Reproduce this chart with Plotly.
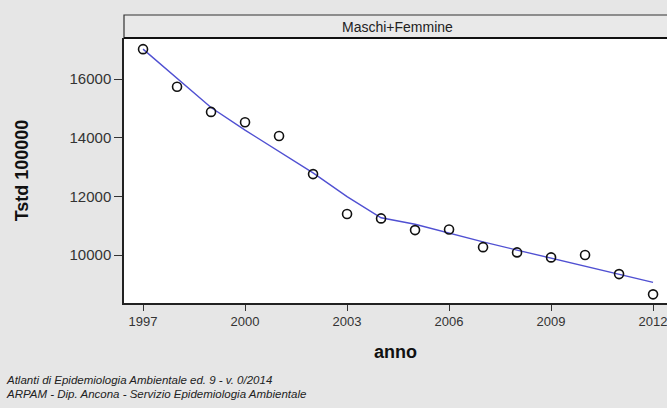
import plotly.graph_objects as go

# Standardised rate per 100000, both sexes
anni = [1997, 1998, 1999, 2000, 2001, 2002, 2003, 2004,
        2005, 2006, 2007, 2008, 2009, 2010, 2011, 2012]
tassi = [17020, 15740, 14880, 14530, 14060, 12760, 11400, 11250,
         10850, 10870, 10270, 10090, 9920, 10000, 9350, 8660]
# Smoothed trend
trend = [17020, 16020, 15030, 14260, 13520, 12800, 11990, 11270,
         11050, 10740, 10450, 10170, 9890, 9620, 9350, 9070]

x_ticks = [1997, 2000, 2003, 2006, 2009, 2012]
y_ticks = [10000, 12000, 14000, 16000]

fig = go.Figure()
fig.add_trace(go.Scatter(
    x=anni, y=trend, mode="lines",
    line=dict(color="#5050d2", width=1.4),
    hoverinfo="skip", showlegend=False,
))
fig.add_trace(go.Scatter(
    x=anni, y=tassi, mode="markers",
    marker=dict(symbol="circle-open", size=9, color="#111111",
                line=dict(width=1.6, color="#111111")),
    showlegend=False,
))

H_PLOT = 408 - 38 - 105
W_PLOT = 667 - 124
strip_top = 1 + 23 / H_PLOT

fig.update_layout(
    width=667, height=408,
    margin=dict(l=124, r=0, t=38, b=105),
    paper_bgcolor="#e6e6e6",
    plot_bgcolor="#ffffff",
    font=dict(family="Liberation Sans, Arial, sans-serif", color="#222222"),
    xaxis=dict(
        range=[1996.44, 2012.41], tickvals=x_ticks,
        ticktext=[str(v) for v in x_ticks],
        ticklabeloverflow="allow",
        showgrid=False, zeroline=False,
        showline=True, linecolor="#222222", linewidth=1.5,
        ticks="outside", ticklen=6, tickcolor="#333333", tickwidth=1,
        tickfont=dict(size=13, color="#333333"),
        title=dict(text="<b>anno</b>", font=dict(size=18, color="#111111"),
                   standoff=17),
    ),
    yaxis=dict(
        range=[8365, 17400], tickvals=y_ticks,
        ticktext=[str(v) for v in y_ticks],
        showgrid=False, zeroline=False,
        showline=True, linecolor="#222222", linewidth=1.5,
        ticks="outside", ticklen=8, tickcolor="#333333", tickwidth=1,
        tickfont=dict(size=15, color="#333333"),
        title=dict(text="<b>Tstd 100000</b>", font=dict(size=18, color="#111111"),
                   standoff=36),
    ),
    shapes=[
        dict(type="rect", xref="paper", yref="paper",
             x0=0, x1=1.05, y0=1, y1=strip_top,
             fillcolor="#e9e9e9", line=dict(color="#333333", width=1.2),
             layer="below"),
        dict(type="line", xref="paper", yref="paper",
             x0=0, x1=1.05, y0=1, y1=1,
             line=dict(color="#111111", width=2.2)),
    ],
    annotations=[
        dict(text="Maschi+Femmine", xref="paper", yref="paper",
             x=0.503, y=(1 + strip_top) / 2, showarrow=False,
             xanchor="center", yanchor="middle",
             font=dict(size=14, color="#222222")),
        dict(text="<i>Atlanti di Epidemiologia Ambientale ed. 9 - v. 0/2014</i>",
             xref="paper", yref="paper", x=-120 / W_PLOT, y=-77 / H_PLOT,
             xanchor="left", yanchor="middle", showarrow=False,
             font=dict(size=11.5, color="#222222")),
        dict(text="<i>ARPAM - Dip. Ancona - Servizio Epidemiologia Ambientale</i>",
             xref="paper", yref="paper", x=-120 / W_PLOT, y=-91 / H_PLOT,
             xanchor="left", yanchor="middle", showarrow=False,
             font=dict(size=11.5, color="#222222")),
    ],
)

fig.write_html("out.html")
